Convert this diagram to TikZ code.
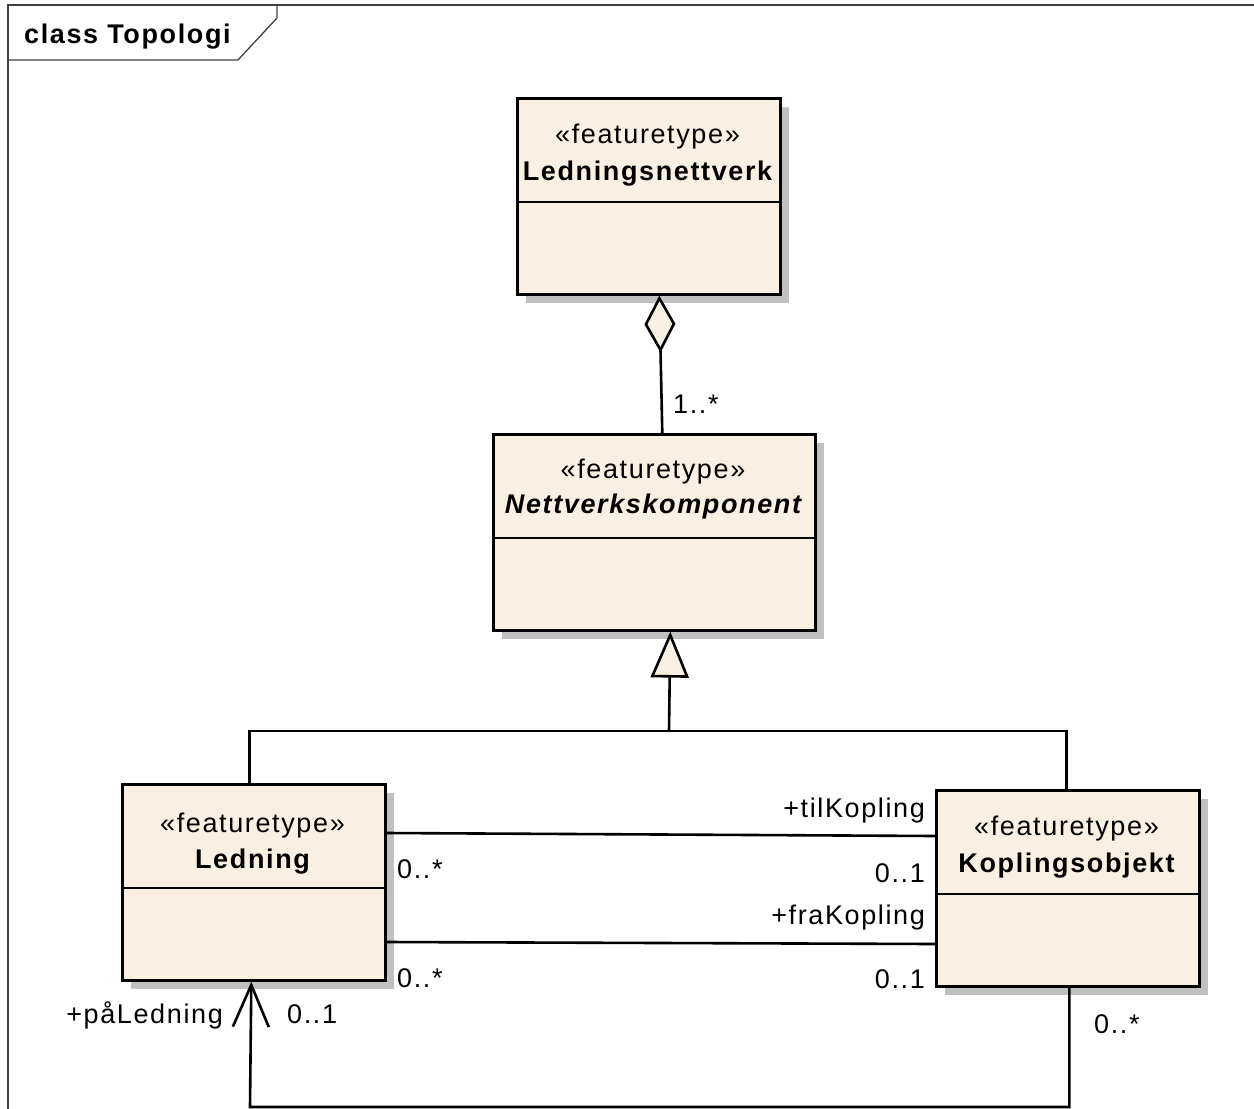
\documentclass[tikz,border=0pt]{standalone}
\usepackage{fontspec}
\setmainfont{Liberation Sans}[LetterSpace=6]
\usetikzlibrary{shadows,arrows.meta,calc}
\definecolor{clsfill}{RGB}{250,240,226}
\definecolor{shadowgray}{RGB}{192,192,192}
\definecolor{framecol}{RGB}{64,64,64}
\newcommand\fsz{\fontsize{27}{31}\selectfont}
\begin{document}
\begin{tikzpicture}[x=1pt,y=-1pt,
  cls/.style={draw=black, line width=2.6pt, fill=clsfill, rectangle, anchor=north west, inner sep=0pt,
    drop shadow={shadow xshift=9pt, shadow yshift=-9pt, fill=shadowgray, opacity=1}},
  divider/.style={draw=black, line width=2.6pt},
  txt/.style={font=\fsz, inner sep=0pt, anchor=base},
  nm/.style={font=\fsz\bfseries, inner sep=0pt, anchor=base},
  nmi/.style={font=\fsz\bfseries\itshape, inner sep=0pt, anchor=base},
  lbl/.style={font=\fsz, inner sep=0pt},
  assoc/.style={draw=black, line width=2.6pt},
  frame/.style={draw=framecol, line width=1.3pt}
]
\useasboundingbox (0,0) rectangle (1254,1109);

% frame
\draw[frame] (8,1109) -- (8,5) -- (1254,5);
\draw[frame] (277,5) -- (277,18) -- (238,60) -- (8,60);
\node[nm, anchor=base west] (title) at (24,43) {class Topologi};

% classes
\node[cls, minimum width=263pt, minimum height=196pt] (lnv) at (516,97) {};
\draw[divider] (516,202) -- (779,202);
\node[txt] (lnvS) at (647.5,143) {«featuretype»};
\node[nm] (lnvN) at (647.5,180) {Ledningsnettverk};

\node[cls, minimum width=322pt, minimum height=196pt] (nvk) at (492,433) {};
\draw[divider] (492,538) -- (814,538);
\node[txt] (nvkS) at (653,478) {«featuretype»};
\node[nmi] (nvkN) at (653,513) {Nettverkskomponent};

\node[cls, minimum width=263pt, minimum height=196pt] (led) at (121,783) {};
\draw[divider] (121,888) -- (384,888);
\node[txt] (ledS) at (252.5,832) {«featuretype»};
\node[nm] (ledN) at (252.5,868) {Ledning};

\node[cls, minimum width=263pt, minimum height=196pt] (kop) at (935,789) {};
\draw[divider] (935,894) -- (1198,894);
\node[txt] (kopS) at (1066.5,835) {«featuretype»};
\node[nm] (kopN) at (1066.5,872) {Koplingsobjekt};

% aggregation
\draw[assoc, {Diamond[fill=clsfill, length=57pt, width=31pt]}-]
  ($(lnv.south)+(10.5,0)$) -- ($(nvk.north)+(8,0)$);
\node[lbl, anchor=base west] (m1) at (673,413) {1..*};

% generalization
\coordinate (gjoin) at (669,731);
\draw[assoc] ($(led.north)+(-4.5,0)$) |- (gjoin);
\draw[assoc] ($(kop.north)+(-1.5,0)$) |- (gjoin);
\draw[assoc, -{Triangle[fill=clsfill, length=46pt, width=38pt]}] (gjoin) -- ($(nvk.south)+(16,0)$);

% associations Ledning - Koplingsobjekt
\draw[assoc] ($(led.north east)+(0,50)$) -- ($(kop.north west)+(0,47)$);
\draw[assoc] ($(led.north east)+(0,159)$) -- ($(kop.north west)+(0,155)$);
\node[lbl, anchor=base east] (tilK) at (925,817) {+tilKopling};
\node[lbl, anchor=base east] (tilM) at (925,882) {0..1};
\node[lbl, anchor=base east] (fraK) at (925,924) {+fraKopling};
\node[lbl, anchor=base east] (fraM) at (925,988) {0..1};
\node[lbl, anchor=base west] (ledM1) at (397,878) {0..*};
\node[lbl, anchor=base west] (ledM2) at (397,987) {0..*};

% self association
\coordinate (selfL) at (250,1107);
\draw[assoc, -{Straight Barb[length=42pt, width=36pt]}]
  ($(kop.south)+(1.5,0)$) |- (selfL) -- ($(led.south)+(-2.5,0)$);
\node[lbl, anchor=base east] (paL) at (223,1023) {+påLedning};
\node[lbl, anchor=base west] (paM) at (287,1023) {0..1};
\node[lbl, anchor=base west] (kopM) at (1094,1033) {0..*};
\end{tikzpicture}
\end{document}
